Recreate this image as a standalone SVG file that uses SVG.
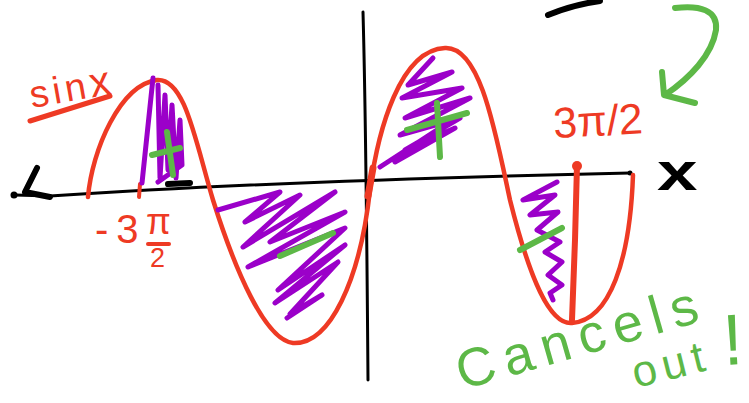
<svg xmlns="http://www.w3.org/2000/svg" width="749" height="403" viewBox="0 0 749 403">
<style>
.blk{fill:none;stroke:#000;stroke-linecap:round;stroke-linejoin:round}
.red{fill:none;stroke:#ee3a24;stroke-linecap:round;stroke-linejoin:round}
.pur{fill:none;stroke:#9b00c9;stroke-width:5;stroke-linecap:round;stroke-linejoin:round}
.grn{fill:none;stroke:#5db847;stroke-width:6;stroke-linecap:round;stroke-linejoin:round}
.tr{fill:#ee3a24;font-family:"Liberation Sans",sans-serif}
.tg{fill:#5db847;font-family:"Liberation Sans",sans-serif}
</style>
<rect width="749" height="403" fill="#fff"/>
<g id="axes">
<path class="blk" stroke-width="3" d="M15,195 L50,196 C200,186 400,178 630,173"/>
<path class="blk" stroke-width="6" d="M168,184 L190,183"/>
<path class="blk" stroke-width="6" d="M37,168 L25,192 L50,197"/>
<circle cx="14" cy="195" r="3.5"/>
<circle cx="630" cy="173" r="2.5"/>
<path class="blk" stroke-width="3" d="M363,12 C366,120 367,250 368,380"/>
<path class="blk" stroke-width="6" d="M548,15 C565,8 585,3 600,1"/>
</g>
<g id="sine">
<path class="red" stroke-width="4.5" d="M88,197 C92,150 120,85 157,80 C185,78 195,140 213,200 C235,270 265,340 293,343 C330,345 360,280 370,190 C378,130 400,50 445,48 C480,46 495,130 510,200 C530,280 550,325 572,323 C610,320 630,260 633,175"/>
<path class="red" stroke-width="4" d="M140,184 L139,197"/>
<path class="red" stroke-width="7" d="M368,196 L373,168"/>
<path class="red" stroke-width="6" d="M577,165 L575,240 L572,320"/>
<circle cx="577" cy="166" r="5" fill="#ee3a24"/>
</g>
<g id="hatching">
<path class="pur" stroke-width="3" d="M153,78 L142,183"/>
<path class="pur" d="M158,85 L160,178 L165,95 L168,170 L172,105 L176,178 L180,120 L182,165 L158,182"/>
<path class="pur" d="M218,210 L280,192 L245,222 L300,195 L243,247 L335,192 L270,242 L345,212 L248,267 L345,228 L278,290 L345,245 L275,303 L338,262 L290,314 L322,295 L287,318"/>
<path class="pur" d="M380,167 L440,128 L395,162 L455,128 L405,150 L460,118 L400,135 L470,98 L405,118 L462,88 L402,98 L452,72 L408,85 L433,58"/>
<path class="pur" d="M557,182 L523,200 L555,195 L530,215 L558,212 L537,230 L560,242 L545,252 L562,262 L548,275 L562,285 L550,293 L553,300"/>
</g>
<g id="marks">
<path class="grn" d="M167,132 L173,175 M152,155 L180,148"/>
<path class="grn" stroke-width="8" d="M280,256 L333,233"/>
<path class="grn" d="M437,103 L440,157 M407,130 L467,113"/>
<path class="grn" d="M520,250 L562,228"/>
<path class="grn" stroke-width="5" d="M675,8 C700,5 718,10 716,30 C712,55 690,78 665,95 M662,72 L664,95 L695,103"/>
</g>
<g id="labels">
<path class="red" stroke-width="5" d="M30,121 L110,96"/>
<text class="tr" font-size="38" letter-spacing="4" transform="translate(32,108) rotate(-10)">sin<tspan font-size="42">x</tspan></text>
<text class="tr" font-size="40" letter-spacing="8" x="95" y="243">-3</text>
<text class="tr" font-size="36" x="146" y="234">π</text>
<path class="red" stroke-width="4" d="M148,244 L169,244"/>
<text class="tr" font-size="27" x="150" y="267">2</text>
<text class="tr" font-size="43" transform="translate(554,138) rotate(-3)">3π/2</text>
<text font-family="Liberation Sans,sans-serif" font-weight="bold" font-size="52" transform="translate(657,190) scale(1.4,1)">x</text>
<text class="tg" font-size="54" letter-spacing="9" transform="translate(462,390) rotate(-16)">Cancels</text>
<text class="tg" font-size="44" letter-spacing="6" transform="translate(636,388) rotate(-14)">out</text>
<text class="tg" font-size="72" transform="translate(724,365) rotate(-3)">!</text>
</g>
</svg>
